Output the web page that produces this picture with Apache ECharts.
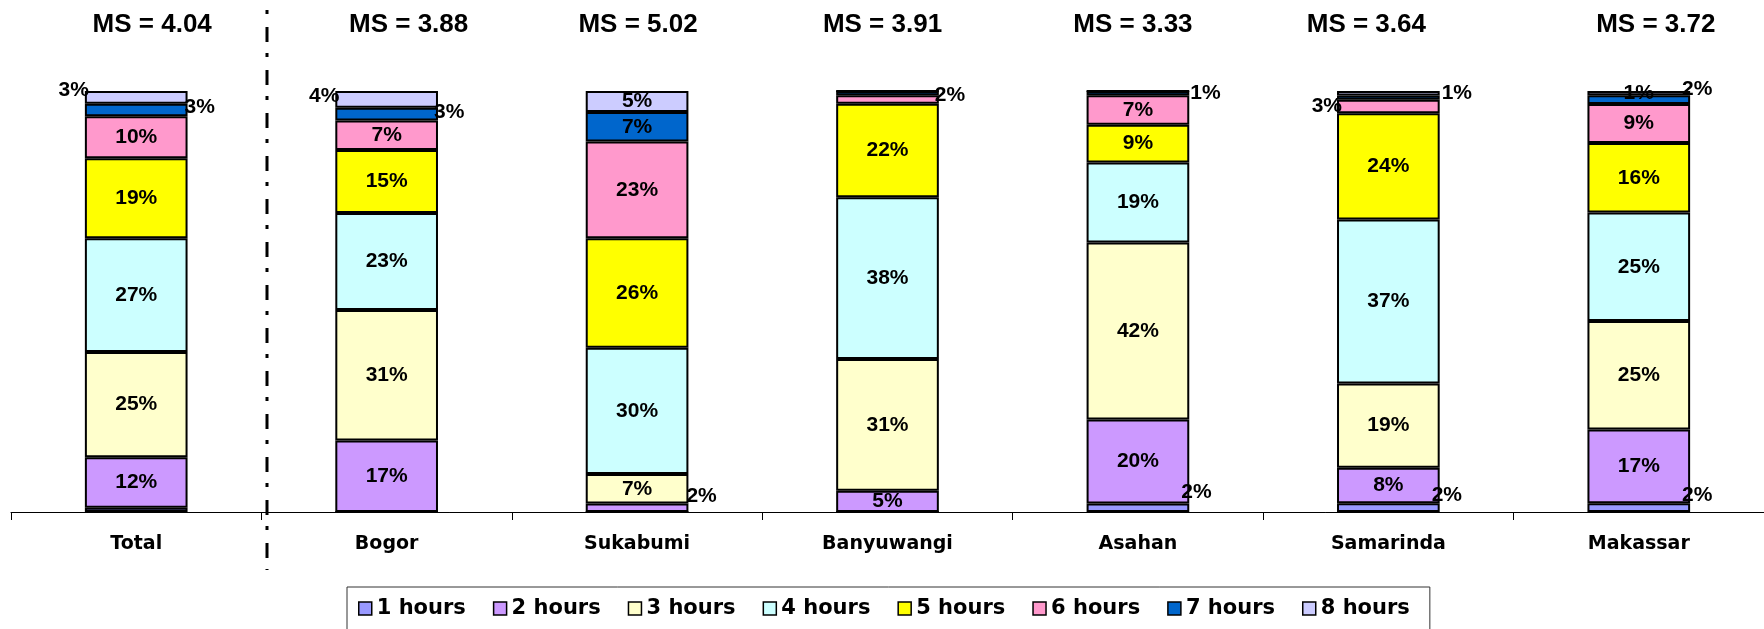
<!DOCTYPE html>
<html>
<head>
<meta charset="utf-8">
<script src="https://cdn.jsdelivr.net/npm/echarts@6/dist/echarts.min.js"></script>
<style>
  html, body { margin: 0; padding: 0; background: #fff; }
  #chart { width: 1764px; height: 629px; }
</style>
</head>
<body>
<div id="chart"></div>
<script>
const regions = ['Total', 'Bogor', 'Sukabumi', 'Banyuwangi', 'Asahan', 'Samarinda', 'Makassar']
const msScores = ['4.04', '3.88', '5.02', '3.91', '3.33', '3.64', '3.72']
const hourNames = ['1 hours', '2 hours', '3 hours', '4 hours', '5 hours', '6 hours', '7 hours', '8 hours']

// % of respondents per region (as printed on the bars)
const hours1 = [1, 0, 0, 0, 2, 2, 2]
const hours2 = [12, 17, 2, 5, 20, 8, 17]
const hours3 = [25, 31, 7, 31, 42, 19, 25]
const hours4 = [27, 23, 30, 38, 19, 37, 25]
const hours5 = [19, 15, 26, 22, 9, 24, 16]
const hours6 = [10, 7, 23, 2, 7, 3, 9]
const hours7 = [3, 3, 7, 1, 1, 1, 2]
const hours8 = [3, 4, 5, 0, 0, 1, 1]

const hoursData = [hours1, hours2, hours3, hours4, hours5, hours6, hours7, hours8]
const colors = ['#9999FF', '#CC99FF', '#FFFFCC', '#CCFFFF', '#FFFF00', '#FF99CC', '#0066CC', '#CCCCFF']

// labels that were dragged off the small segments ("series-category")
const labelTweaks = {
  '0-0': { show: false },
  '7-0': { position: 'left', distance: -4, offset: [0, -7] },
  '6-0': { position: 'right', distance: -3, offset: [0, -3] },
  '7-1': { position: 'left', distance: -4, offset: [0, -3] },
  '6-1': { position: 'right', distance: -4, offset: [0, -2] },
  '1-2': { position: 'right', distance: -2, offset: [0, -12] },
  '5-3': { position: 'right', distance: -4, offset: [0, -4] },
  '6-3': { show: false },
  '6-4': { position: 'right', distance: 1, offset: [0, 0] },
  '0-4': { position: 'right', distance: -8, offset: [0, -16] },
  '7-5': { position: 'right', distance: 2, offset: [0, 0] },
  '5-5': { position: 'left', distance: -5, offset: [0, 0] },
  '6-5': { show: false },
  '0-5': { position: 'right', distance: -8, offset: [0, -12] },
  '6-6': { position: 'right', distance: -8, offset: [0, -10] },
  '0-6': { position: 'right', distance: -8, offset: [0, -12] }
}

// small nudges of the "MS = " boxes relative to the bar centres
const titleNudge = [16, 22, 1, -5, -5, -22, 17]

const totals = regions.map((r, i) => hoursData.reduce((s, arr) => s + arr[i], 0))

const labelFont = {
  fontFamily: 'Arial, "Liberation Sans", sans-serif',
  fontWeight: 'bold',
  fontSize: 21,
  color: '#000'
}

const series = hoursData.map((arr, s) => ({
  name: hourNames[s],
  type: 'bar',
  stack: 'all',
  barWidth: '41%',
  itemStyle: { color: colors[s], borderColor: '#000', borderWidth: 2 },
  emphasis: { disabled: true },
  label: {
    show: true,
    position: 'inside',
    ...labelFont,
    textBorderWidth: 0,
    formatter: p => hoursData[p.seriesIndex][p.dataIndex] + '%'
  },
  data: arr.map((v, i) => {
    // 100% stacked: each column is scaled to its own total
    const item = { value: v / totals[i] * 100 }
    if (v === 0) item.label = { show: false }
    const t = labelTweaks[s + '-' + i]
    if (t) item.label = t
    return item
  })
}))

const chart = echarts.init(document.getElementById('chart'))

chart.setOption({
  animation: false,
  grid: { left: 11, right: 0, top: 91, bottom: 117, outerBoundsMode: 'none' },
  xAxis: {
    type: 'category',
    data: regions,
    axisLine: { lineStyle: { color: '#000', width: 1 } },
    axisTick: { show: true, length: 8, lineStyle: { color: '#000' } },
    axisLabel: {
      fontFamily: '"DejaVu Sans", sans-serif',
      fontWeight: 'bold',
      fontSize: 19,
      color: '#000',
      margin: 23
    }
  },
  yAxis: { type: 'value', min: 0, max: 100, show: false },
  legend: {
    data: hourNames,
    left: 347,
    top: 587,
    itemWidth: 13,
    itemHeight: 13,
    itemGap: 27,
    padding: [11, 20, 12, 11],
    borderColor: '#333',
    borderWidth: 1,
    icon: 'rect',
    selectedMode: false,
    itemStyle: { borderColor: '#000', borderWidth: 1.5 },
    textStyle: {
      fontFamily: '"DejaVu Sans", sans-serif',
      fontWeight: 'bold',
      fontSize: 21,
      color: '#000'
    }
  },
  graphic: [{
    // dash-dot separator between Total and the regions
    type: 'line',
    shape: { x1: 267, y1: 10, x2: 267, y2: 570 },
    style: { stroke: '#000', lineWidth: 3, lineDash: [4, 13, 15, 11] }
  }],
  series
})

chart.setOption({
  title: regions.map((r, i) => ({
    text: 'MS = ' + msScores[i],
    left: chart.convertToPixel({ xAxisIndex: 0 }, i) + titleNudge[i],
    top: 12,
    padding: 0,
    textAlign: 'center',
    textStyle: {
      fontFamily: 'Arial, "Liberation Sans", sans-serif',
      fontWeight: 'bold',
      fontSize: 26,
      color: '#000'
    }
  }))
})

window.addEventListener('resize', () => chart.resize())
</script>
</body>
</html>
